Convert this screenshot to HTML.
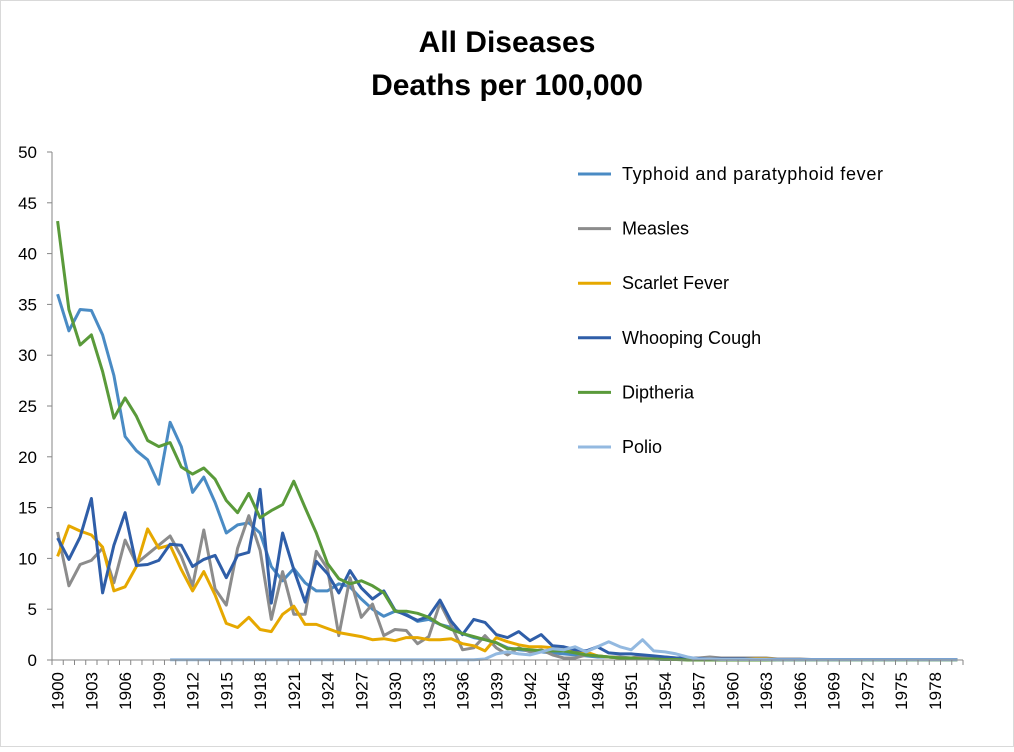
<!DOCTYPE html>
<html><head><meta charset="utf-8"><style>
body{margin:0;background:#fff;}
svg text{font-family:"Liberation Sans",Arial,sans-serif;}
</style></head><body>
<svg id="chart" width="1014" height="747" xmlns="http://www.w3.org/2000/svg">
<rect x="0.5" y="0.5" width="1013" height="746" fill="#fff" stroke="#d9d9d9"/>
<text x="507" y="52" text-anchor="middle" font-size="30" font-weight="bold">All Diseases</text>
<text x="507" y="95" text-anchor="middle" font-size="30" font-weight="bold">Deaths per 100,000</text>
<g id="grid"></g><g id="series"></g><g id="axes"></g><g id="legend"></g>
</svg>
<script>
const startYear = 1900;
const yearCount = 81;
const yTicks = [0,5,10,15,20,25,30,35,40,45,50];
const seriesNames = ["Typhoid and paratyphoid fever","Measles","Scarlet Fever","Whooping Cough","Diptheria","Polio"];
const seriesColors = ["#4a8bc4","#8c8c8c","#e6a800","#2f5ea8","#5a9a3a","#93b9e0"];
const typhoid = [36,32.4,34.5,34.4,32,28,22,20.6,19.7,17.3,23.4,21,16.5,18,15.5,12.5,13.3,13.5,12.5,9.2,7.8,9,7.6,6.8,6.8,7.5,7.2,6,5,4.3,4.8,4.5,3.8,4,3.5,3.2,2.6,2.2,2,1.7,1.2,1,0.9,0.8,0.7,0.6,0.5,0.4,0.3,0.3,0.2,0.2,0.1,0.1,0.05,0.05,0.05,0.05,0.05,0.05,0.05,0.05,0.05,0.05,0.05,0.05,0.05,0.05,0.05,0.05,0.05,0.05,0.05,0.05,0.05,0.05,0.05,0.05,0.05,0.05,0.05];
const measles = [12.6,7.3,9.4,9.8,11,7.6,11.8,9.5,10.4,11.3,12.2,10.2,7.3,12.8,7,5.4,11,14.2,10.8,4,8.7,4.5,4.5,10.7,9,2.4,8.1,4.2,5.5,2.4,3,2.9,1.6,2.3,5.6,3.4,1,1.2,2.4,1.2,0.5,1.2,0.8,1,0.5,0.2,0.2,0.5,0.4,0.3,0.3,0.2,0.4,0.3,0.3,0.2,0.2,0.2,0.3,0.2,0.2,0.2,0.2,0.2,0.1,0.1,0.1,0.05,0.05,0.05,0.05,0.05,0.05,0.05,0.05,0.05,0.05,0.05,0.05,0.05,0.05];
const scarlet = [10.2,13.2,12.7,12.3,11.1,6.8,7.2,9.2,12.9,11,11.3,8.9,6.8,8.7,6.4,3.6,3.2,4.2,3,2.8,4.5,5.3,3.5,3.5,3.1,2.7,2.5,2.3,2,2.1,1.9,2.2,2.2,2,2,2.1,1.6,1.4,0.9,2.2,1.8,1.5,1.3,1.3,1.2,1.2,0.9,0.8,0.4,0.3,0.2,0.2,0.1,0.1,0.1,0.1,0.1,0.1,0.1,0.1,0.1,0.1,0.1,0.1,0.05,0.05,0.05,0.05,0.05,0.05,0.05,0.05,0.05,0.05,0.05,0.05,0.05,0.05,0.05,0.05,0.05];
const whooping = [12,9.9,12.1,15.9,6.6,11.3,14.5,9.3,9.4,9.8,11.4,11.3,9.2,9.9,10.3,8.1,10.3,10.6,16.8,5.6,12.5,8.9,5.7,9.7,8.5,6.6,8.8,7.1,6,6.8,4.9,4.4,3.9,4.3,5.9,3.8,2.5,4,3.7,2.5,2.2,2.8,1.9,2.5,1.4,1.3,1,0.9,1.3,0.7,0.6,0.6,0.5,0.4,0.3,0.2,0.2,0.15,0.1,0.1,0.1,0.1,0.05,0.05,0.05,0.05,0.05,0.05,0.05,0.05,0.05,0.05,0.05,0.05,0.05,0.05,0.05,0.05,0.05,0.05,0.05];
const diphtheria = [43.2,34.5,31,32,28.4,23.8,25.8,24,21.6,21,21.4,19,18.3,18.9,17.8,15.7,14.5,16.4,14,14.7,15.3,17.6,15,12.5,9.5,8,7.5,7.8,7.3,6.6,4.8,4.8,4.6,4.2,3.5,3,2.6,2.3,2,1.7,1.1,1.1,1,0.9,0.9,0.9,0.7,0.5,0.4,0.3,0.2,0.2,0.1,0.1,0.05,0.05,0,0,0,0,0,0,0,0,0,0,0,0,0,0,0,0,0,0,0,0,0,0,0,0,0];
const polio = [null,null,null,null,null,null,null,null,null,null,0.03,0.03,0.03,0.03,0.03,0.03,0.03,0.03,0.03,0.03,0.03,0.03,0.03,0.03,0.03,0.03,0.03,0.03,0.03,0.03,0.03,0.03,0.03,0.03,0.03,0.03,0.03,0.03,0.1,0.6,0.8,0.6,0.5,0.8,1.1,1,1.3,0.8,1.3,1.8,1.3,1,2,0.9,0.8,0.6,0.3,0.1,0.1,0.05,0.05,0.05,0.05,0.05,0.03,0.03,0.03,0.03,0.03,0.03,0.03,0.03,0.03,0.03,0.03,0.03,0.03,0.03,0.03,0.03,0.03];
const allSeries = [typhoid,measles,scarlet,whooping,diphtheria,polio];

const NS="http://www.w3.org/2000/svg";
const X0=52, X1=963, Y0=660, Y1=152, YMAX=50;
const step=(X1-X0)/yearCount;
const xs=i=>X0+step*(i+0.5);
const ys=v=>Y0-(v/YMAX)*(Y0-Y1);
function mk(tag,parent,attrs){const e=document.createElementNS(NS,tag);for(const k in attrs)e.setAttribute(k,attrs[k]);parent.appendChild(e);return e;}
const axes=document.getElementById('axes'), ser=document.getElementById('series'), leg=document.getElementById('legend');

const ya=mk('line',axes,{x1:X0,y1:Y1,x2:X0,y2:Y0,stroke:'#868686','stroke-width':1});


yTicks.forEach(t=>{
  const y=ys(t);
  const tk=mk('line',axes,{x1:X0-5,y1:y,x2:X0,y2:y,stroke:'#868686'});
  
  
  const tx=mk('text',axes,{x:X0-15,y:y+6,'text-anchor':'end','font-size':17});
  tx.textContent=t;
  
  
});
const xa=mk('line',axes,{x1:X0,y1:Y0,x2:X1,y2:Y0,stroke:'#868686'});


for(let i=0;i<=yearCount;i++){
  const x=X0+step*i;
  const tk=mk('line',axes,{x1:x,y1:Y0,x2:x,y2:Y0+5,stroke:'#868686'});
  
  
}
for(let i=0;i<yearCount;i+=3){
  const x=xs(i)+6, y=Y0+12;
  const tx=mk('text',axes,{x:x,y:y,'text-anchor':'end','font-size':17,transform:`rotate(-90 ${x} ${y})`});
  tx.textContent=startYear+i;
  
  
}
allSeries.forEach((arr,s)=>{
  let d='';let pen=false;
  arr.forEach((v,i)=>{ if(v===null){pen=false;return;} d+=(pen?'L':'M')+xs(i).toFixed(1)+' '+ys(v).toFixed(1)+' '; pen=true;});
  const p=mk('path',ser,{d:d,fill:'none',stroke:seriesColors[s],'stroke-width':3,'stroke-linejoin':'round'});
  
  
});
seriesNames.forEach((n,s)=>{
  const y=174+s*54.6;
  const l=mk('line',leg,{x1:578,y1:y,x2:611,y2:y,stroke:seriesColors[s],'stroke-width':3});
  
  
  const t=mk('text',leg,{x:622,y:y+6,'font-size':18,textLength:n.length>20?261:null});
  if(!t.getAttribute('textLength')||t.getAttribute('textLength')==='null')t.removeAttribute('textLength');
  t.textContent=n;
  
  
});
</script>
</body></html>
